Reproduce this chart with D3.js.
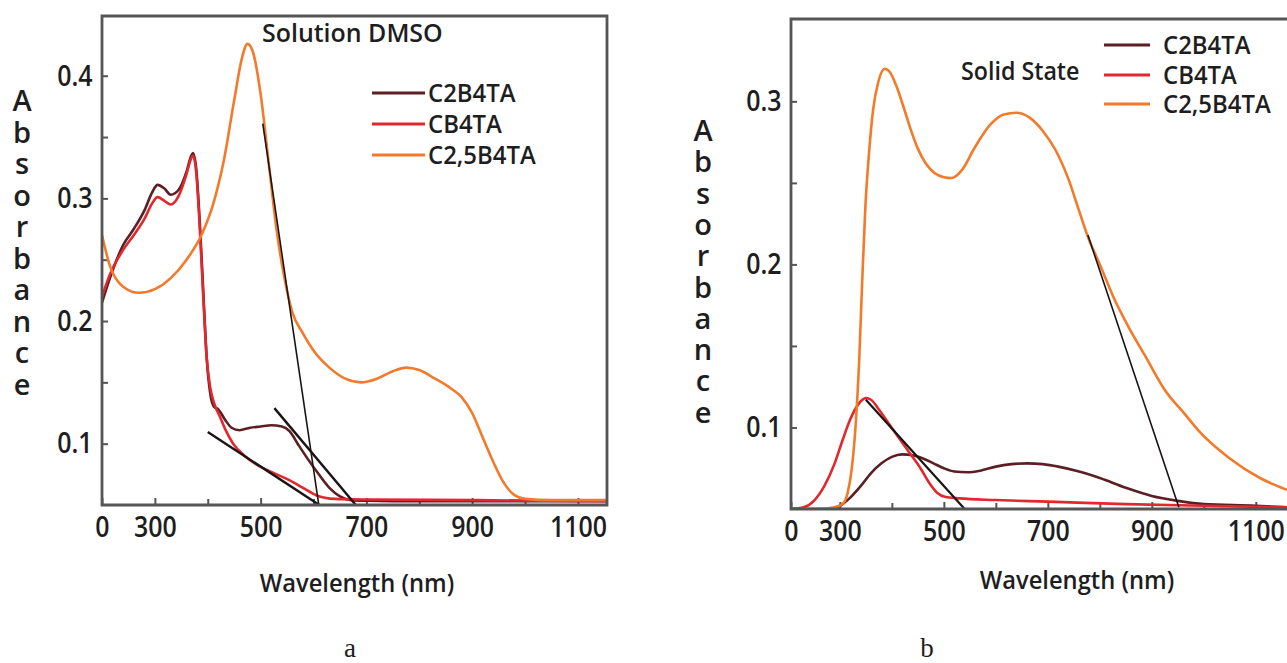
<!DOCTYPE html>
<html><head><meta charset="utf-8">
<script src="https://cdn.jsdelivr.net/npm/d3@7"></script>
<style>
body{margin:0;background:#fff;}
svg{display:block;}
</style>
</head><body><svg id="c" width="1287" height="663"></svg>
<script>
// ---------- data (wavelength nm, absorbance) ----------
const seriesNames = ["C2B4TA", "CB4TA", "C2,5B4TA"];
const seriesColors = ["#5b1f24", "#e1282e", "#f27a2a"];

// Panel a: Solution DMSO
const solC2B4TA = [[200,0.215],[215,0.235],[240,0.262],[260,0.275],[280,0.29],[295,0.305],[305,0.311],[318,0.308],[330,0.303],[345,0.307],[360,0.322],[368,0.334],[372,0.337],[378,0.325],[385,0.28],[392,0.22],[398,0.17],[405,0.14],[412,0.13],[420,0.128],[432,0.12],[445,0.113],[460,0.111],[480,0.113],[500,0.114],[520,0.115],[540,0.114],[555,0.110],[570,0.100],[590,0.087],[610,0.075],[630,0.064],[650,0.057],[670,0.054],[700,0.0535],[800,0.053],[1000,0.053],[1155,0.053]];
const solCB4TA = [[200,0.22],[215,0.238],[240,0.258],[260,0.27],[280,0.283],[295,0.296],[305,0.301],[318,0.298],[330,0.295],[345,0.302],[360,0.320],[368,0.332],[372,0.335],[378,0.322],[385,0.275],[392,0.215],[398,0.17],[405,0.145],[412,0.133],[423,0.122],[435,0.11],[448,0.1],[470,0.09],[492,0.083],[520,0.077],[555,0.070],[580,0.064],[605,0.058],[640,0.055],[700,0.0545],[900,0.054],[1155,0.053]];
const solC25B4TA = [[200,0.27],[215,0.245],[240,0.228],[270,0.223],[300,0.226],[330,0.235],[360,0.250],[390,0.272],[410,0.295],[430,0.330],[450,0.380],[465,0.415],[475,0.426],[485,0.420],[500,0.385],[515,0.330],[530,0.275],[545,0.235],[560,0.207],[580,0.19],[600,0.176],[630,0.162],[660,0.153],[690,0.150],[720,0.153],[750,0.159],[775,0.162],[800,0.160],[830,0.153],[860,0.145],[880,0.138],[900,0.125],[920,0.105],[940,0.085],[960,0.068],[980,0.058],[1000,0.055],[1050,0.054],[1155,0.054]];
const solTangents = [[[504,0.361],[610,0.05]],[[400,0.1095],[611,0.05]],[[526,0.129],[680,0.05]]];

// Panel b: Solid State
const ssC2B4TA = [[206,0.05],[280,0.05],[300,0.052],[320,0.057],[340,0.064],[360,0.072],[380,0.078],[400,0.082],[420,0.0835],[440,0.083],[460,0.081],[480,0.078],[500,0.075],[520,0.073],[545,0.0725],[570,0.0735],[600,0.076],[630,0.0775],[660,0.078],[690,0.0775],[720,0.076],[760,0.073],[800,0.069],[850,0.063],[900,0.058],[950,0.055],[1000,0.053],[1100,0.052],[1160,0.051]];
const ssCB4TA = [[206,0.05],[230,0.051],[250,0.055],[270,0.064],[290,0.078],[305,0.092],[320,0.105],[335,0.114],[350,0.118],[360,0.117],[375,0.111],[395,0.102],[415,0.093],[435,0.084],[455,0.075],[472,0.066],[487,0.06],[502,0.0575],[530,0.0565],[600,0.0555],[700,0.0545],[850,0.053],[1000,0.052],[1160,0.051]];
const ssC25B4TA = [[206,0.05],[260,0.05],[290,0.051],[305,0.053],[315,0.06],[323,0.075],[330,0.1],[337,0.14],[343,0.19],[349,0.235],[356,0.268],[364,0.295],[374,0.312],[386,0.320],[396,0.318],[408,0.310],[422,0.297],[436,0.283],[450,0.271],[465,0.262],[482,0.256],[500,0.2535],[515,0.253],[535,0.258],[560,0.272],[590,0.286],[615,0.292],[640,0.293],[665,0.290],[690,0.282],[715,0.270],[740,0.252],[760,0.233],[777,0.217],[800,0.2],[829,0.178],[858,0.16],[887,0.144],[925,0.123],[964,0.108],[993,0.097],[1050,0.081],[1108,0.069],[1160,0.0617]];
const ssTangents = [[[350,0.117],[540,0.05]],[[777,0.218],[952,0.051]]];

// ticks
const xTickValsA = [200,300,500,700,900,1100];
const xTickValsB = [206,300,500,700,900,1100];
const xTickLabels = ["0","300","500","700","900","1100"];
const xMinorVals = [400,600,800,1000];
const yTicksA = [0.1,0.2,0.3,0.4];
const yMinorA = [0.15,0.25,0.35];
const yTicksB = [0.1,0.2,0.3];
const yMinorB = [0.15,0.25];
const yTitleText = "Absorbance";
const xTitleText = "Wavelength (nm)";

// ---------- drawing ----------
const svg = d3.select("#c");
const defs = svg.append("defs");
const FONT = "'Open Sans', sans-serif";
const INK = "#1e1e1e";

function styleText(sel, size, sx){
  sel.attr("font-size", size).attr("fill", INK)
    .attr("font-family", FONT).attr("font-weight", 600)
    .attr("transform", `scale(${sx},1)`);
}

function panel(cfg){
  const {x, y, series, tangents, xTickVals, yTicks, yMinor, id} = cfg;
  const [x0,x1] = x.range(), [y0,y1] = y.range();
  defs.append("clipPath").attr("id", id).append("rect")
    .attr("x", x0).attr("y", y1).attr("width", x1-x0).attr("height", y0-y1);
  const g = svg.append("g");

  const xa = g.append("g").attr("transform", `translate(0,${y0})`)
    .call(d3.axisBottom(x).tickValues(xTickVals).tickSize(-7).tickPadding(11)
      .tickFormat((d,i)=>xTickLabels[i]));
  xa.select(".domain").remove();
  xa.selectAll("line").attr("stroke","#555").attr("stroke-width",2);
  styleText(xa.selectAll("text"), 29, 0.86);
  const xm = g.append("g").attr("transform", `translate(0,${y0})`)
    .call(d3.axisBottom(x).tickValues(xMinorVals).tickSize(-6).tickFormat(""));
  xm.select(".domain").remove();
  xm.selectAll("line").attr("stroke","#555").attr("stroke-width",2);

  const ya = g.append("g").attr("transform", `translate(${x0},0)`)
    .call(d3.axisLeft(y).tickValues(yTicks).tickSize(-6).tickPadding(11)
      .tickFormat(d3.format(".1f")));
  ya.select(".domain").remove();
  ya.selectAll("line").attr("stroke","#555").attr("stroke-width",2);
  styleText(ya.selectAll("text"), 29, 0.86);
  const ym = g.append("g").attr("transform", `translate(${x0},0)`)
    .call(d3.axisLeft(y).tickValues(yMinor).tickSize(-6).tickFormat(""));
  ym.select(".domain").remove();
  ym.selectAll("line").attr("stroke","#555").attr("stroke-width",2);

  const line = d3.line().x(d=>x(d[0])).y(d=>y(d[1])).curve(d3.curveMonotoneX);
  const cg = g.append("g").attr("clip-path", `url(#${id})`);
  series.forEach((s,i)=>{
    cg.append("path").datum(s).attr("d", line).attr("fill","none")
      .attr("stroke", seriesColors[i]).attr("stroke-width", 2.6)
      .attr("stroke-linejoin","round");
  });
  const tl = d3.line().x(d=>x(d[0])).y(d=>y(d[1]));
  tangents.forEach((t,i)=>{
    cg.append("path").datum(t).attr("d", tl).attr("fill","none")
      .attr("stroke", "#1a1414").attr("stroke-width", cfg.tanW[i]);
  });

  g.append("path")
    .attr("d", cfg.openRight
      ? `M${x1+10},${y1}H${x0}V${y0}H${x1+10}`
      : `M${x0},${y1}H${x1}V${y0}H${x0}Z`)
    .attr("fill","none").attr("stroke","#555").attr("stroke-width",2.8);
  return g;
}

const xA = d3.scaleLinear().domain([200,1155]).range([102,607]);
const yA = d3.scaleLinear().domain([0.05,0.4487]).range([505,16]);
const xB = d3.scaleLinear().domain([206,1160]).range([791,1287]);
const yB = d3.scaleLinear().domain([0.05,0.3505]).range([509,19]);

panel({id:"clipA", x:xA, y:yA, series:[solC2B4TA, solCB4TA, solC25B4TA],
  tangents: solTangents, tanW:[1.6,2.4,2.4], xTickVals:xTickValsA, yTicks:yTicksA, yMinor:yMinorA});
panel({id:"clipB", x:xB, y:yB, series:[ssC2B4TA, ssCB4TA, ssC25B4TA],
  tangents: ssTangents, tanW:[2.2,1.6], xTickVals:xTickValsB, yTicks:yTicksB, yMinor:yMinorB, openRight:true});

function txt(x, y, s, size, anchor, sx, family, weight){
  return svg.append("text").attr("transform", `translate(${x},${y}) scale(${sx||1},1)`)
    .attr("font-size", size).attr("text-anchor", anchor||"start")
    .attr("font-family", family||FONT).attr("font-weight", weight||600)
    .attr("fill", INK)
    .text(s);
}
txt(262, 42, "Solution DMSO", 26, "start", 0.96);
txt(961, 80, "Solid State", 25, "start", 0.93);

function legend(xLine0, xLine1, xText, ys, size, sx){
  seriesNames.forEach((n,i)=>{
    svg.append("line").attr("x1",xLine0).attr("x2",xLine1).attr("y1",ys[i]).attr("y2",ys[i])
      .attr("stroke",seriesColors[i]).attr("stroke-width",3.2);
    txt(xText, ys[i]+ size*0.36, n, size, "start", sx);
  });
}
legend(372, 425, 428, [93,124,155], 26, 0.92);
legend(1104, 1150, 1163, [45,75,104], 26, 0.92);

// stacked-letter y titles (one text element each, tspans per letter)
function stacked(x, yTop, step){
  const t = svg.append("text").attr("font-size", 29).attr("font-family", FONT)
    .attr("font-weight", 600).attr("fill", INK).attr("text-anchor","middle");
  yTitleText.split("").forEach((ch,i)=>{
    t.append("tspan").attr("x", x).attr("y", yTop + i*step + 10).text(ch);
  });
}
stacked(22, 101, 31.5);
stacked(703, 131, 31.3);

txt(357, 592, xTitleText, 25, "middle", 0.95);
txt(1077, 589, xTitleText, 25, "middle", 0.95);

txt(350, 657, "a", 27, "middle", 1, "'Liberation Serif', serif", 400);
txt(927, 657, "b", 27, "middle", 1, "'Liberation Serif', serif", 400);
</script></body></html>
